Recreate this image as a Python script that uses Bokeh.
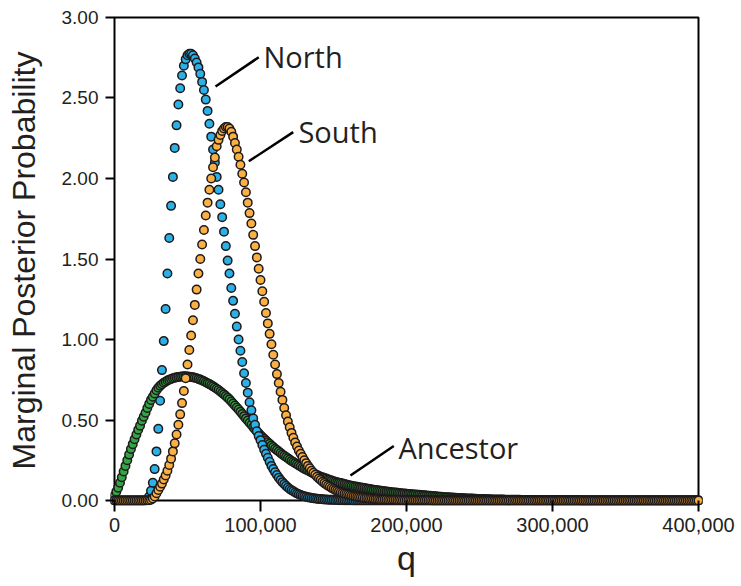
from bokeh.plotting import figure
from bokeh.models import Range1d, FixedTicker, NumeralTickFormatter, BoxAnnotation
from bokeh.core.properties import value
from bokeh.embed import file_html
from bokeh.resources import INLINE

# ---------------- data ----------------
q_step = 1250  # sampling interval of q

north = [
    0, 0, 0, 0, 0, 0, 0, 0, 0, 0,
    0, 0, 0, 0, 0, 0, 0, 0.002, 0.008, 0.025,
    0.06, 0.11, 0.195, 0.305, 0.445, 0.62, 0.81, 0.99, 1.19, 1.41,
    1.63, 1.83, 2.01, 2.19, 2.33, 2.46, 2.56, 2.64, 2.70, 2.74,
    2.765, 2.775, 2.775, 2.765, 2.745, 2.72, 2.69, 2.65, 2.60, 2.55,
    2.49, 2.42, 2.34, 2.26, 2.18, 2.10, 2.01, 1.93, 1.84, 1.76,
    1.67, 1.58, 1.49, 1.41, 1.32, 1.24, 1.16, 1.08, 1.00, 0.93,
    0.86, 0.79, 0.73, 0.67, 0.61, 0.56, 0.51, 0.47, 0.43, 0.40,
    0.375, 0.345, 0.315, 0.29, 0.265, 0.24, 0.215, 0.195, 0.175, 0.158,
    0.142, 0.127, 0.114, 0.102, 0.091, 0.081, 0.072, 0.064, 0.057, 0.05,
    0.044, 0.039, 0.034, 0.030, 0.026, 0.023, 0.020, 0.018, 0.016, 0.014,
    0.012, 0.011, 0.010, 0.009, 0.008, 0.007, 0.006, 0.005, 0.005, 0.004,
    0.004, 0.003, 0.003, 0.002, 0.002, 0.002, 0.001, 0.001, 0.001, 0.001,
    0.001, 0, 0, 0, 0, 0, 0, 0, 0, 0,
    0, 0, 0, 0, 0, 0, 0, 0, 0, 0, 0, 0, 0, 0, 0, 0, 0, 0, 0, 0,
    0, 0, 0, 0, 0, 0, 0, 0, 0, 0, 0, 0, 0, 0, 0, 0, 0, 0, 0, 0,
    0, 0, 0, 0, 0, 0, 0, 0, 0, 0, 0, 0, 0, 0, 0, 0, 0, 0, 0, 0,
    0, 0, 0, 0, 0, 0, 0, 0, 0, 0, 0, 0, 0, 0, 0, 0, 0, 0, 0, 0,
    0, 0, 0, 0, 0, 0, 0, 0, 0, 0, 0, 0, 0, 0, 0, 0, 0, 0, 0, 0,
    0, 0, 0, 0, 0, 0, 0, 0, 0, 0, 0, 0, 0, 0, 0, 0, 0, 0, 0, 0,
    0, 0, 0, 0, 0, 0, 0, 0, 0, 0, 0, 0, 0, 0, 0, 0, 0, 0, 0, 0,
    0, 0, 0, 0, 0, 0, 0, 0, 0, 0, 0, 0, 0, 0, 0, 0, 0, 0, 0, 0,
    0, 0, 0, 0, 0, 0, 0, 0, 0, 0, 0, 0, 0, 0, 0, 0, 0, 0, 0, 0,
    0,
]

south = [
    0, 0, 0, 0, 0, 0, 0, 0, 0, 0,
    0, 0, 0, 0, 0, 0, 0, 0, 0.001, 0.002,
    0.005, 0.012, 0.025, 0.045, 0.065, 0.085, 0.105, 0.13, 0.155, 0.185,
    0.22, 0.26, 0.305, 0.355, 0.41, 0.47, 0.535, 0.605, 0.68, 0.76,
    0.845, 0.935, 1.025, 1.12, 1.215, 1.31, 1.41, 1.50, 1.59, 1.68,
    1.77, 1.85, 1.93, 2.00, 2.07, 2.13, 2.20, 2.24, 2.27, 2.295,
    2.31, 2.32, 2.32, 2.31, 2.29, 2.26, 2.22, 2.18, 2.135, 2.085,
    2.03, 1.975, 1.915, 1.85, 1.785, 1.72, 1.65, 1.58, 1.51, 1.44,
    1.37, 1.30, 1.235, 1.165, 1.10, 1.035, 0.97, 0.905, 0.845, 0.785,
    0.73, 0.675, 0.625, 0.575, 0.53, 0.49, 0.455, 0.42, 0.39, 0.36,
    0.335, 0.31, 0.29, 0.27, 0.25, 0.232, 0.215, 0.20, 0.185, 0.172,
    0.16, 0.148, 0.137, 0.127, 0.117, 0.108, 0.10, 0.092, 0.085, 0.078,
    0.072, 0.066, 0.061, 0.056, 0.051, 0.047, 0.043, 0.04, 0.037, 0.034,
    0.031, 0.028, 0.026, 0.024, 0.022, 0.020, 0.018, 0.016, 0.015, 0.014,
    0.013, 0.012, 0.011, 0.010, 0.009, 0.008, 0.007, 0.007, 0.006, 0.006,
    0.005, 0.005, 0.004, 0.004, 0.004, 0.003, 0.003, 0.003, 0.002, 0.002,
    0.002, 0.002, 0.002, 0.001, 0.001, 0.001, 0.001, 0.001, 0.001, 0.001,
    0.001, 0.001, 0.001, 0.001, 0, 0, 0, 0, 0, 0,
    0, 0, 0, 0, 0, 0, 0, 0, 0, 0, 0, 0, 0, 0, 0, 0, 0, 0, 0, 0,
    0, 0, 0, 0, 0, 0, 0, 0, 0, 0, 0, 0, 0, 0, 0, 0, 0, 0, 0, 0,
    0, 0, 0, 0, 0, 0, 0, 0, 0, 0, 0, 0, 0, 0, 0, 0, 0, 0, 0, 0,
    0, 0, 0, 0, 0, 0, 0, 0, 0, 0, 0, 0, 0, 0, 0, 0, 0, 0, 0, 0,
    0, 0, 0, 0, 0, 0, 0, 0, 0, 0, 0, 0, 0, 0, 0, 0, 0, 0, 0, 0,
    0, 0, 0, 0, 0, 0, 0, 0, 0, 0, 0, 0, 0, 0, 0, 0, 0, 0, 0, 0,
    0, 0, 0, 0, 0, 0, 0, 0, 0, 0, 0, 0, 0, 0, 0, 0, 0, 0, 0, 0,
    0,
]

ancestor = [
    0.03, 0.055, 0.08, 0.11, 0.145, 0.18, 0.215, 0.25, 0.285, 0.32,
    0.35, 0.38, 0.41, 0.44, 0.465, 0.495, 0.52, 0.545, 0.575, 0.60,
    0.625, 0.645, 0.665, 0.685, 0.70, 0.712, 0.722, 0.731, 0.738, 0.745,
    0.75, 0.755, 0.759, 0.762, 0.765, 0.767, 0.769, 0.77, 0.771, 0.771,
    0.77, 0.769, 0.767, 0.765, 0.762, 0.759, 0.755, 0.751, 0.746, 0.741,
    0.735, 0.729, 0.723, 0.716, 0.709, 0.702, 0.694, 0.686, 0.677, 0.668,
    0.659, 0.649, 0.639, 0.628, 0.615, 0.603, 0.59, 0.578, 0.565, 0.552,
    0.538, 0.524, 0.51, 0.497, 0.483, 0.47, 0.456, 0.443, 0.43, 0.417,
    0.405, 0.394, 0.383, 0.372, 0.362, 0.352, 0.342, 0.332, 0.322, 0.313,
    0.304, 0.295, 0.286, 0.278, 0.27, 0.262, 0.254, 0.246, 0.239, 0.232,
    0.225, 0.218, 0.211, 0.204, 0.198, 0.192, 0.186, 0.18, 0.174, 0.168,
    0.163, 0.158, 0.153, 0.148, 0.144, 0.14, 0.136, 0.132, 0.128, 0.124,
    0.12, 0.117, 0.114, 0.111, 0.108, 0.105, 0.102, 0.099, 0.096, 0.093,
    0.091, 0.089, 0.087, 0.085, 0.083, 0.081, 0.079, 0.077, 0.075, 0.073,
    0.071, 0.069, 0.067, 0.066, 0.064, 0.062, 0.061, 0.059, 0.058, 0.056,
    0.055, 0.053, 0.052, 0.05, 0.049, 0.048, 0.046, 0.045, 0.044, 0.043,
    0.042, 0.041, 0.04, 0.039, 0.038, 0.037, 0.036, 0.035, 0.034, 0.033,
    0.032, 0.031, 0.030, 0.029, 0.028, 0.027, 0.026, 0.025, 0.024, 0.023,
    0.022, 0.021, 0.020, 0.020, 0.019, 0.018, 0.017, 0.017, 0.016, 0.015,
    0.015, 0.014, 0.014, 0.013, 0.013, 0.012, 0.012, 0.011, 0.011, 0.010,
    0.010, 0.009, 0.009, 0.009, 0.008, 0.008, 0.008, 0.007, 0.007, 0.007,
    0.006, 0.006, 0.006, 0.006, 0.005, 0.005, 0.005, 0.005, 0.004, 0.004,
    0.004, 0.004, 0.004, 0.003, 0.003, 0.003, 0.003, 0.003, 0.003, 0.003,
    0.002, 0.002, 0.002, 0.002, 0.002, 0.002, 0.002, 0.002, 0.002, 0.002,
    0.001, 0.001, 0.001, 0.001, 0.001, 0.001, 0.001, 0.001, 0.001, 0.001,
    0.001, 0.001, 0.001, 0.001, 0.001, 0, 0, 0, 0, 0,
    0, 0, 0, 0, 0, 0, 0, 0, 0, 0, 0, 0, 0, 0, 0, 0, 0, 0, 0, 0,
    0, 0, 0, 0, 0, 0, 0, 0, 0, 0, 0, 0, 0, 0, 0, 0, 0, 0, 0, 0,
    0, 0, 0, 0, 0, 0, 0, 0, 0, 0, 0, 0, 0, 0, 0, 0, 0, 0, 0, 0,
    0,
]

x_ticks = [0, 100000, 200000, 300000, 400000]
y_ticks = [0.0, 0.5, 1.0, 1.5, 2.0, 2.5, 3.0]

label_x = [102000, 126000, 194500]
label_y = [2.76, 2.295, 0.33]
label_text = ["North", "South", "Ancestor"]
leader_x0 = [69200, 92000, 161600]
leader_y0 = [2.571, 2.107, 0.155]
leader_x1 = [98800, 122400, 191300]
leader_y1 = [2.753, 2.288, 0.339]

# ---------------- plot ----------------
def qs(vals):
    return [q_step * i for i in range(len(vals))]

p = figure(width=741, height=586, output_backend="svg", toolbar_location=None,
           x_range=Range1d(-2740, 402740), y_range=Range1d(-0.031, 3.0124),
           min_border_left=110, min_border_right=39, min_border_top=15,
           min_border_bottom=81)
p.grid.visible = False
p.outline_line_color = None
p.background_fill_color = "white"
p.border_fill_color = "white"

box = BoxAnnotation(left=0, right=400000, bottom=0, top=3, fill_color=None,
                    fill_alpha=0, line_color="#000000", line_alpha=1.0,
                    line_width=2, level="underlay")
p.add_layout(box)

outline = "#1E1A1B"
p.scatter(qs(ancestor), ancestor, size=8.5, fill_color="#35A447", line_color=outline,
          line_width=1.5)
p.scatter(qs(north), north, size=8.5, fill_color="#2BB0E8", line_color=outline,
          line_width=1.5)
p.scatter(qs(south), south, size=8.5, fill_color="#FBB044", line_color=outline,
          line_width=1.5)

p.segment(leader_x0, leader_y0, leader_x1, leader_y1, line_color="#000000", line_width=2.5)
p.text(label_x, label_y, text=label_text, text_font=value("Open Sans"),
       text_font_size="29px", text_baseline="alphabetic", text_align="left",
       text_color="#231F20")

ax = p.xaxis[0]
ax.ticker = FixedTicker(ticks=x_ticks)
ax.formatter = NumeralTickFormatter(format="0,0")
ax.axis_line_color = None
ax.major_tick_in = 5
ax.major_tick_out = 6
ax.major_tick_line_width = 2
ax.major_tick_line_color = "#000000"
ax.minor_tick_line_color = None
ax.major_label_text_font = "Liberation Sans"
ax.major_label_text_font_size = "20px"
ax.major_label_text_color = "#231F20"
ax.major_label_standoff = 6
ax.axis_label = "q"
ax.axis_label_text_font = "Liberation Sans"
ax.axis_label_text_font_size = "34px"
ax.axis_label_text_font_style = "normal"
ax.axis_label_text_color = "#231F20"
ax.axis_label_standoff = 4

ay = p.yaxis[0]
ay.ticker = FixedTicker(ticks=y_ticks)
ay.formatter = NumeralTickFormatter(format="0.00")
ay.axis_line_color = None
ay.major_tick_in = 4
ay.major_tick_out = 5
ay.major_tick_line_width = 2
ay.major_tick_line_color = "#000000"
ay.minor_tick_line_color = None
ay.major_label_text_font = "Liberation Sans"
ay.major_label_text_font_size = "19px"
ay.major_label_text_color = "#231F20"
ay.major_label_standoff = 7
ay.axis_label = "Marginal Posterior Probability"
ay.axis_label_text_font = "Liberation Sans"
ay.axis_label_text_font_size = "32px"
ay.axis_label_text_font_style = "normal"
ay.axis_label_text_color = "#231F20"
ay.axis_label_standoff = 17

open("out.html", "w").write(file_html(p, INLINE))
